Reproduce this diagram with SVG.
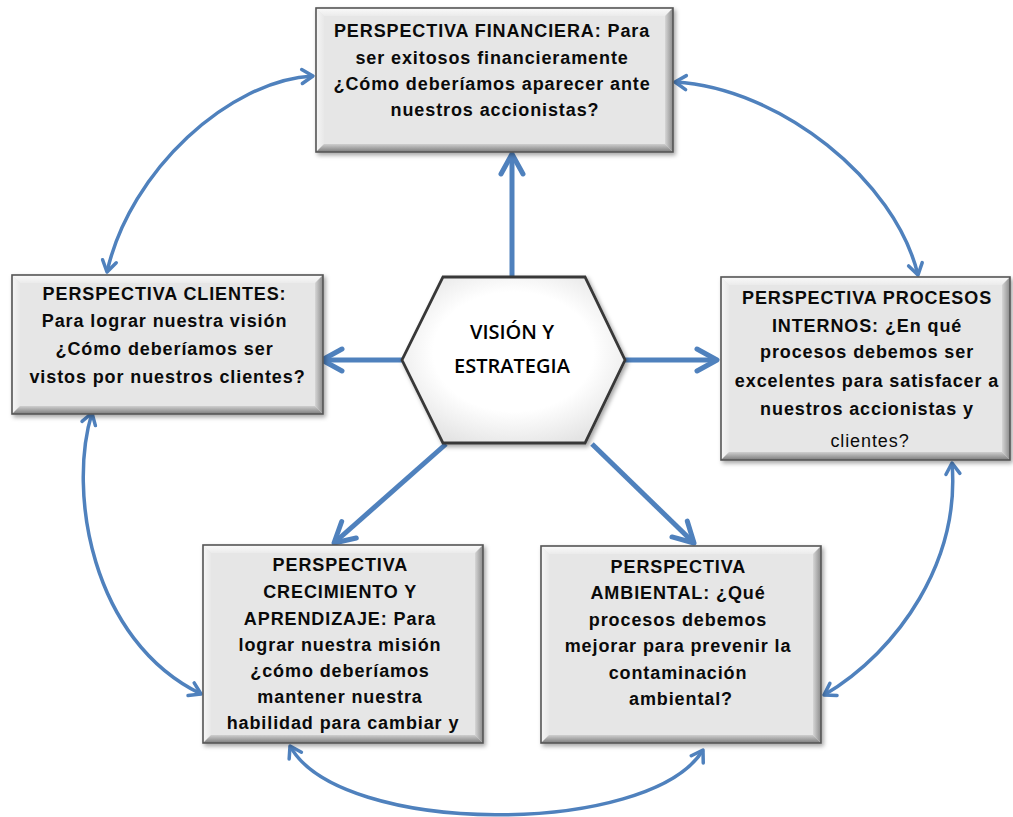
<svg xmlns="http://www.w3.org/2000/svg" width="1013" height="817" viewBox="0 0 1013 817">
  <defs>
    <style>
      .face{fill:#e6e6e6}
      .bt{fill:url(#gTop)}
      .bl{fill:url(#gLeft)}
      .br{fill:url(#gRight)}
      .bb{fill:url(#gBot)}
      .frame{fill:none;stroke:#555555;stroke-width:1.6}
      .lbl{font-family:"Liberation Sans",Arial,sans-serif;font-weight:bold;font-size:18px;letter-spacing:0.9px;fill:#0a0a0a;text-anchor:middle}
      .reg{font-weight:normal}
      .hex{fill:url(#gHex);stroke:#383838;stroke-width:2.8;stroke-linejoin:miter}
      .hexlbl{font-family:"Open Sans","Liberation Sans",sans-serif;font-weight:600;font-size:20px;fill:#000;text-anchor:middle}
      .main{fill:none;stroke:#4f81bd;stroke-width:5}
      .loop{fill:none;stroke:#4f81bd;stroke-width:3.5}
    </style>
    <linearGradient id="gTop" x1="0" y1="0" x2="0" y2="1">
      <stop offset="0" stop-color="#fafafa"/>
      <stop offset="1" stop-color="#ebebeb"/>
    </linearGradient>
    <linearGradient id="gLeft" x1="0" y1="0" x2="1" y2="0">
      <stop offset="0" stop-color="#f6f6f6"/>
      <stop offset="1" stop-color="#e8e8e8"/>
    </linearGradient>
    <linearGradient id="gRight" x1="0" y1="0" x2="1" y2="0">
      <stop offset="0" stop-color="#d6d6d6"/>
      <stop offset="1" stop-color="#8a8a8a"/>
    </linearGradient>
    <linearGradient id="gBot" x1="0" y1="0" x2="0" y2="1">
      <stop offset="0" stop-color="#cfcfcf"/>
      <stop offset="1" stop-color="#7c7c7c"/>
    </linearGradient>
    <radialGradient id="gHex" cx="0.5" cy="0.45" r="0.6">
      <stop offset="0.6" stop-color="#ffffff"/>
      <stop offset="1" stop-color="#e4e4e4"/>
    </radialGradient>
    <filter id="shadow" x="-10%" y="-10%" width="120%" height="125%">
      <feDropShadow dx="2" dy="2.5" stdDeviation="2" flood-color="#000" flood-opacity="0.35"/>
    </filter>
    <marker id="chev" markerUnits="userSpaceOnUse" orient="auto" refX="0" refY="0" markerWidth="30" markerHeight="30" overflow="visible">
      <path d="M-20,-11 L0,0 L-20,11" fill="none" stroke="#4f81bd" stroke-width="5" stroke-linejoin="round" stroke-linecap="round"/>
    </marker>
    <marker id="tip" markerUnits="userSpaceOnUse" orient="auto-start-reverse" refX="0" refY="0" markerWidth="20" markerHeight="20" overflow="visible">
      <path d="M-11,-7 L0,0 L-11,7" fill="none" stroke="#4f81bd" stroke-width="3.5" stroke-linejoin="round" stroke-linecap="round"/>
    </marker>
  </defs>

  <rect width="1013" height="817" fill="#ffffff"/>

  <!-- connectors -->
  <g id="connectors">
    <path class="main" d="M512,277 L512,154" marker-end="url(#chev)"/>
    <path class="main" d="M402,360 L322,360" marker-end="url(#chev)"/>
    <path class="main" d="M625,360 L717,360" marker-end="url(#chev)"/>
    <path class="main" d="M446,444 L334,543" marker-end="url(#chev)"/>
    <path class="main" d="M592,444 L694,543" marker-end="url(#chev)"/>

    <path class="loop" d="M313,76 C230,80 130,170 107,272" marker-start="url(#tip)" marker-end="url(#tip)"/>
    <path class="loop" d="M675,82 C780,88 895,180 918,275" marker-start="url(#tip)" marker-end="url(#tip)"/>
    <path class="loop" d="M92,413 C68,490 90,640 201,694" marker-start="url(#tip)" marker-end="url(#tip)"/>
    <path class="loop" d="M952,463 C960,560 900,650 824,695" marker-start="url(#tip)" marker-end="url(#tip)"/>
    <path class="loop" d="M290,746 C340,837 650,837 703,750" marker-start="url(#tip)" marker-end="url(#tip)"/>
  </g>

  <!-- centre hexagon -->
  <g id="vision">
    <polygon class="hex" filter="url(#shadow)" points="443,277 585,277 625,360 585,443 443,443 402,360"/>
    <text class="hexlbl"><tspan x="512" y="339">VISIÓN Y</tspan><tspan x="512" y="373">ESTRATEGIA</tspan></text>
  </g>

  <!-- financial perspective -->
  <g id="financiera">
    <g filter="url(#shadow)">
      <rect class="face" x="316" y="8" width="357" height="144"/>
      <polygon class="bt" points="316,8 673,8 665,16 324,16"/>
      <polygon class="bl" points="316,8 324,16 324,144 316,152"/>
      <polygon class="br" points="673,8 673,152 665,144 665,16"/>
      <polygon class="bb" points="316,152 673,152 665,144 324,144"/>
      <rect class="frame" x="316" y="8" width="357" height="144"/>
    </g>
    <text class="lbl">
      <tspan x="495" y="37">PERSPECTIVA FINANCIERA: Para</tspan>
      <tspan x="495" y="63.5">ser exitosos financieramente</tspan>
      <tspan x="495" y="90">¿Cómo deberíamos aparecer ante</tspan>
      <tspan x="495" y="116">nuestros accionistas?</tspan>
    </text>
  </g>

  <!-- customer perspective -->
  <g id="clientes">
    <g filter="url(#shadow)">
      <rect class="face" x="12" y="275" width="311" height="139"/>
      <polygon class="bt" points="12,275 323,275 315,283 20,283"/>
      <polygon class="bl" points="12,275 20,283 20,406 12,414"/>
      <polygon class="br" points="323,275 323,414 315,406 315,283"/>
      <polygon class="bb" points="12,414 323,414 315,406 20,406"/>
      <rect class="frame" x="12" y="275" width="311" height="139"/>
    </g>
    <text class="lbl">
      <tspan x="167.5" y="300">PERSPECTIVA CLIENTES:</tspan>
      <tspan x="167.5" y="327">Para lograr nuestra visión</tspan>
      <tspan x="167.5" y="355">¿Cómo deberíamos ser</tspan>
      <tspan x="167.5" y="382.5">vistos por nuestros clientes?</tspan>
    </text>
  </g>

  <!-- internal process perspective -->
  <g id="procesos">
    <g filter="url(#shadow)">
      <rect class="face" x="721" y="277" width="289" height="183"/>
      <polygon class="bt" points="721,277 1010,277 1002,285 729,285"/>
      <polygon class="bl" points="721,277 729,285 729,452 721,460"/>
      <polygon class="br" points="1010,277 1010,460 1002,452 1002,285"/>
      <polygon class="bb" points="721,460 1010,460 1002,452 729,452"/>
      <rect class="frame" x="721" y="277" width="289" height="183"/>
    </g>
    <text class="lbl">
      <tspan x="870" y="303.5">PERSPECTIVA PROCESOS</tspan>
      <tspan x="870" y="331.5">INTERNOS: ¿En qué</tspan>
      <tspan x="870" y="358">procesos debemos ser</tspan>
      <tspan x="870" y="386.5">excelentes para satisfacer a</tspan>
      <tspan x="870" y="414.5">nuestros accionistas y</tspan>
      <tspan x="870" y="446.5" class="reg">clientes?</tspan>
    </text>
  </g>

  <!-- learning and growth perspective -->
  <g id="crecimiento">
    <g filter="url(#shadow)">
      <rect class="face" x="203" y="545" width="280" height="198"/>
      <polygon class="bt" points="203,545 483,545 475,553 211,553"/>
      <polygon class="bl" points="203,545 211,553 211,735 203,743"/>
      <polygon class="br" points="483,545 483,743 475,735 475,553"/>
      <polygon class="bb" points="203,743 483,743 475,735 211,735"/>
      <rect class="frame" x="203" y="545" width="280" height="198"/>
    </g>
    <text class="lbl">
      <tspan x="343" y="570.5">PERSPECTIVA</tspan>
      <tspan x="343" y="598">CRECIMIENTO Y</tspan>
      <tspan x="343" y="624.5">APRENDIZAJE: Para</tspan>
      <tspan x="343" y="650.5">lograr nuestra misión</tspan>
      <tspan x="343" y="677">¿cómo deberíamos</tspan>
      <tspan x="343" y="703">mantener nuestra</tspan>
      <tspan x="343" y="729">habilidad para cambiar y</tspan>
    </text>
  </g>

  <!-- environmental perspective -->
  <g id="ambiental">
    <g filter="url(#shadow)">
      <rect class="face" x="541" y="546" width="280" height="197"/>
      <polygon class="bt" points="541,546 821,546 813,554 549,554"/>
      <polygon class="bl" points="541,546 549,554 549,735 541,743"/>
      <polygon class="br" points="821,546 821,743 813,735 813,554"/>
      <polygon class="bb" points="541,743 821,743 813,735 549,735"/>
      <rect class="frame" x="541" y="546" width="280" height="197"/>
    </g>
    <text class="lbl">
      <tspan x="681" y="572.5">PERSPECTIVA</tspan>
      <tspan x="681" y="599">AMBIENTAL: ¿Qué</tspan>
      <tspan x="681" y="625.5">procesos debemos</tspan>
      <tspan x="681" y="652">mejorar para prevenir la</tspan>
      <tspan x="681" y="678.5">contaminación</tspan>
      <tspan x="681" y="705">ambiental?</tspan>
    </text>
  </g>
</svg>
